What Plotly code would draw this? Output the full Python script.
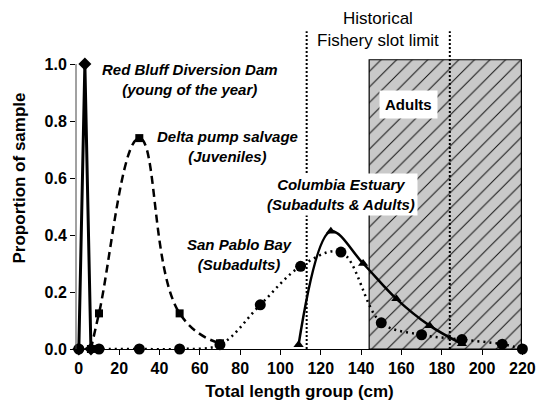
import plotly.graph_objects as go

# ---- data ----
red_bluff_x = [0, 3, 6]
red_bluff_y = [0.0, 1.0, 0.0]

delta_x = [6, 10, 30, 50, 70]
delta_y = [0.0, 0.125, 0.74, 0.125, 0.02]

san_pablo_x = [0, 10, 30, 50, 70, 90, 110, 130, 150, 170, 190, 210, 220]
san_pablo_y = [0.0, 0.0, 0.0, 0.0, 0.015, 0.155, 0.29, 0.34, 0.092, 0.05, 0.033, 0.017, 0.0]

columbia_x = [109, 125, 141, 157.5, 174, 190]
columbia_y = [0.015, 0.413, 0.30, 0.176, 0.082, 0.018]

adult_range = [144, 219.5]
adult_top = 1.015
slot_limits = [113, 184]
slot_top = 1.115

x_ticks = [0, 20, 40, 60, 80, 100, 120, 140, 160, 180, 200, 220]
y_ticks = [0.0, 0.2, 0.4, 0.6, 0.8, 1.0]

FONT = "Liberation Sans, Arial, sans-serif"

fig = go.Figure()

# hatched adult region
fig.add_trace(go.Scatter(
    x=[adult_range[0], adult_range[1], adult_range[1], adult_range[0], adult_range[0]],
    y=[0, 0, adult_top, adult_top, 0],
    mode="lines", fill="toself",
    fillcolor="#c9c9c9",
    fillpattern=dict(shape="/", bgcolor="#c9c9c9", fgcolor="#111111", size=11, solidity=0.09, fillmode="replace"),
    line=dict(color="black", width=1.2),
    hoverinfo="skip", showlegend=False,
))

fig.add_trace(go.Scatter(
    x=san_pablo_x, y=san_pablo_y, mode="lines+markers",
    line=dict(color="black", width=2.5, dash="2px,4px", shape="spline", smoothing=1),
    marker=dict(symbol="circle", size=11, color="black"),
    cliponaxis=False, showlegend=False,
))

fig.add_trace(go.Scatter(
    x=delta_x, y=delta_y, mode="lines+markers",
    line=dict(color="black", width=2.5, dash="8px,5px", shape="spline", smoothing=1.3),
    marker=dict(symbol="square", size=8, color="black"),
    cliponaxis=False, showlegend=False,
))

fig.add_trace(go.Scatter(
    x=red_bluff_x, y=red_bluff_y, mode="lines+markers",
    line=dict(color="black", width=3),
    marker=dict(symbol="diamond", size=10, color="black"),
    cliponaxis=False, showlegend=False,
))

fig.add_trace(go.Scatter(
    x=columbia_x, y=columbia_y, mode="lines+markers",
    line=dict(color="black", width=2.5, shape="spline", smoothing=1),
    marker=dict(symbol="triangle-up", size=9, color="black"),
    cliponaxis=False, showlegend=False,
))

for xv in slot_limits:
    fig.add_shape(type="line", xref="x", yref="y", x0=xv, x1=xv, y0=0, y1=slot_top,
                  line=dict(color="black", width=2, dash="2px,2px"), layer="above")

# y-axis line only up to the top tick
fig.add_shape(type="line", xref="paper", yref="y", x0=0, x1=0, y0=0, y1=y_ticks[-1],
              line=dict(color="#444444", width=1), layer="above")

ann_font = dict(family=FONT, size=15, color="black")
fig.add_annotation(x=55, y=0.947, xref="x", yref="y", showarrow=False,
                   text="<b><i>Red Bluff Diversion Dam<br>(young of the year)</i></b>", font=ann_font)
fig.add_annotation(x=73.5, y=0.71, xref="x", yref="y", showarrow=False,
                   text="<b><i>Delta pump salvage<br>(Juveniles)</i></b>", font=ann_font)
fig.add_annotation(x=129.8, y=0.543, xref="x", yref="y", showarrow=False,
                   text="<b><i>Columbia Estuary<br>(Subadults &amp; Adults)</i></b>", font=ann_font,
                   bgcolor="white", borderpad=2)
fig.add_annotation(x=79.6, y=0.331, xref="x", yref="y", showarrow=False,
                   text="<b><i>San Pablo Bay<br>(Subadults)</i></b>", font=ann_font)
fig.add_annotation(x=163.7, y=0.857, xref="x", yref="y", showarrow=False,
                   text="<b>Adults</b>", font=ann_font, bgcolor="white", borderpad=5)
fig.add_annotation(x=148.5, y=1.12, xref="x", yref="y", showarrow=False,
                   text="Historical<br>Fishery slot limit", font=dict(family=FONT, size=17, color="black"))

fig.update_layout(
    width=543, height=410,
    margin=dict(l=76, r=16, t=7, b=61),
    paper_bgcolor="white", plot_bgcolor="white",
    font=dict(family=FONT, color="black"),
    xaxis=dict(range=[-1.4, 220.3], tickvals=x_ticks, showgrid=False, zeroline=False,
               showline=True, linecolor="black", linewidth=1, ticks="outside", ticklen=5,
               tickcolor="black", tickfont=dict(family=FONT, size=16, weight="bold"),
               title=dict(text="<b>Total length group (cm)</b>", font=dict(family=FONT, size=17), standoff=8)),
    yaxis=dict(range=[0, 1.2], tickvals=y_ticks, tickformat=".1f", showgrid=False, zeroline=False,
               showline=False, ticks="outside", ticklen=5,
               tickcolor="black", tickfont=dict(family=FONT, size=16, weight="bold"),
               title=dict(text="<b>Proportion of sample</b>", font=dict(family=FONT, size=17), standoff=14)),
)

fig.write_html("out.html", config={"displayModeBar": False},
               post_script="document.body.style.margin='0';")
